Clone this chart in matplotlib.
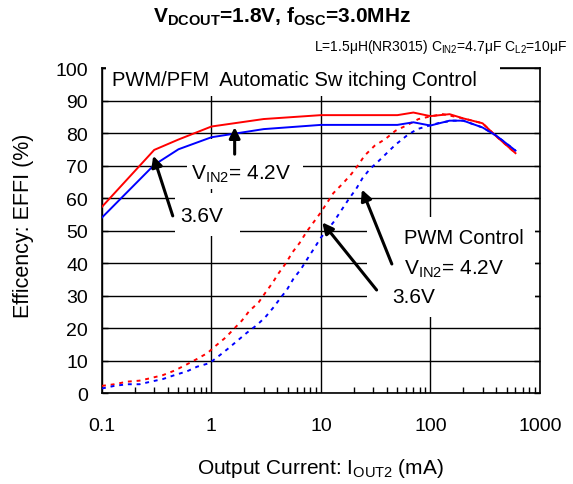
import numpy as np
import matplotlib
matplotlib.use('Agg')
import matplotlib.pyplot as plt
from matplotlib.patches import Rectangle

plt.rcParams['font.family'] = ['Liberation Sans', 'DejaVu Sans']
plt.rcParams['mathtext.fontset'] = 'custom'
plt.rcParams['mathtext.rm'] = 'Liberation Sans'
plt.rcParams['mathtext.bf'] = 'Liberation Sans:bold'
plt.rcParams['mathtext.default'] = 'regular'

# PWM/PFM automatic switching (solid)
x_auto = [0.1, 0.3, 0.5, 1, 3, 10, 50, 70, 100, 150, 200, 300, 400, 600]
eff_auto_42 = [57.3, 74.8, 78, 82, 84.3, 85.5, 85.5, 86.3, 85.2, 85.8, 84.5, 83, 79, 73.8]
eff_auto_36 = [54, 70.2, 75, 78.7, 81.2, 82.5, 82.5, 83.3, 82.3, 83.8, 83.8, 81.7, 79.2, 74.6]

# PWM control (dotted)
x_pwm_42 = [0.1, 0.13, 0.17, 0.22, 0.28, 0.36, 0.46, 0.58, 0.74, 0.92, 1.1, 1.35, 1.6, 1.9,
            2.2, 2.7, 3.1, 3.6, 4.1, 4.8, 5.5, 6.4, 7.4, 10, 13, 16, 19, 22, 25, 31, 39, 48,
            62, 78, 100, 130, 200, 300, 400, 600]
eff_pwm_42 = [2.2, 2.7, 3.5, 3.8, 4.6, 5.5, 6.9, 8.6, 10.5, 12.3, 14.6, 17.1, 19.7, 22.3,
              25.1, 27.9, 30.8, 33.8, 36.8, 40, 43.3, 46.2, 49.6, 55.6, 61.5, 64.6, 67.4, 70.2,
              73, 76.1, 78.2, 80.7, 82.5, 84.3, 85.1, 85.8, 84.5, 83, 79, 73.8]
x_pwm_36 = [0.1, 0.13, 0.17, 0.22, 0.28, 0.36, 0.46, 0.6, 0.74, 0.96, 1.2, 1.4, 1.7, 2.1,
            2.6, 3.1, 3.7, 4.2, 4.9, 5.6, 6.6, 7.5, 8.6, 10, 13, 18, 21, 24, 28, 34, 48, 62,
            76, 98, 120, 160, 200, 300, 400, 600]
eff_pwm_36 = [1.4, 2.2, 2.7, 2.7, 3.5, 4.3, 5.5, 6.7, 8.1, 9.2, 11.7, 13.5, 15.9, 18.5,
              20.9, 23.3, 26.4, 28.9, 31.8, 35.1, 38.2, 41.2, 44.3, 47.8, 52.5, 59.7, 62.8, 66.1,
              68.9, 71.5, 76.4, 79.4, 81.2, 82.3, 83.1, 83.8, 83.8, 81.7, 79.2, 74.6]

x_ticks = [0.1, 1, 10, 100, 1000]
x_ticklabels = ['0.1', '1', '10', '100', '1000']
y_ticks = list(range(0, 101, 10))

fig = plt.figure(figsize=(5.73, 4.85), dpi=100)
ax = fig.add_axes([0.178, 0.1876, 0.764, 0.6701])

ax.plot(x_pwm_42, eff_pwm_42, color='#ff0000', lw=1.4, ls=(0, (2, 2.5)), zorder=4)
ax.plot(x_pwm_36, eff_pwm_36, color='#0000ff', lw=1.4, ls=(0, (2, 2.5)), zorder=4)
ax.plot(x_auto, eff_auto_42, color='#ff0000', lw=1.4, zorder=4)
ax.plot(x_auto, eff_auto_36, color='#0000ff', lw=1.4, zorder=4)

ax.set_xscale('log')
ax.set_xlim(0.1, 1000)
ax.set_ylim(0, 100)
ax.set_xticks(x_ticks)
ax.set_xticklabels(x_ticklabels)
ax.set_yticks(y_ticks)
ax.grid(True, which='major', color='black', lw=1.0)
ax.tick_params(which='major', direction='in', length=4, width=1, labelsize=14,
               right=True, top=False)
ax.tick_params(axis='x', which='major', pad=17, length=0)
ax.tick_params(axis='y', which='major', pad=10)
ax.tick_params(axis='x', which='minor', direction='in', length=4, width=1, top=False)
for s in ax.spines.values():
    s.set_linewidth(1.2)

# white boxes behind the labels
for bx in [(0.009, 0.914, 0.900, 0.13), (0.194, 0.628, 0.265, 0.154),
           (0.167, 0.483, 0.148, 0.132), (0.605, 0.234, 0.384, 0.308)]:
    ax.add_patch(Rectangle((bx[0], bx[1]), bx[2], bx[3], transform=ax.transAxes,
                           facecolor='white', edgecolor='none', zorder=3, clip_on=False))

ax.set_xlabel('Output Current: I$_{OUT2}$ (mA)', fontsize=15)
ax.xaxis.set_label_coords(0.5, -0.194)
ax.set_ylabel('Efficency: EFFI (%)', fontsize=15.5)
ax.yaxis.set_label_coords(-0.155, 0.517)

ax.text(0.123, 94.8, 'PWM/PFM  Automatic Sw itching Control', fontsize=14.5,
        va='baseline', zorder=5)
ax.text(0.645, 65.8, 'V$_{IN2}$= 4.2V', fontsize=15, va='baseline', zorder=5)
ax.text(0.523, 53, '3.6V', fontsize=15, va='baseline', zorder=5)
ax.text(57.3, 46.2, 'PWM Control', fontsize=14.5, va='baseline', zorder=5)
ax.text(57.3, 36.6, 'V$_{IN2}$= 4.2V', fontsize=15, va='baseline', zorder=5)
ax.text(44.5, 27.9, '3.6V', fontsize=15, va='baseline', zorder=5)

arrow = dict(arrowstyle='-|>', lw=2.2, color='black', mutation_scale=16, shrinkA=0, shrinkB=0)
ax.annotate('', xy=(1.63, 81.8), xytext=(1.63, 73.5), arrowprops=arrow, zorder=6)
ax.annotate('', xy=(0.294, 73.0), xytext=(0.443, 54.5), arrowprops=arrow, zorder=6)
ax.annotate('', xy=(23.7, 62.6), xytext=(44.5, 39.7), arrowprops=arrow, zorder=6)
ax.annotate('', xy=(10.3, 52.5), xytext=(32.3, 31.7), arrowprops=arrow, zorder=6)

fig.text(0.492, 0.965, r'V$_{DCOUT}$=1.8V, f$_{OSC}$=3.0MHz', fontsize=15,
         fontweight='bold', ha='center', va='center')
fig.text(0.99, 0.903, 'L=1.5μH(NR3015) C$_{IN2}$=4.7μF C$_{L2}$=10μF', fontsize=10,
         ha='right', va='center')

fig.savefig('out.png', dpi=100)
